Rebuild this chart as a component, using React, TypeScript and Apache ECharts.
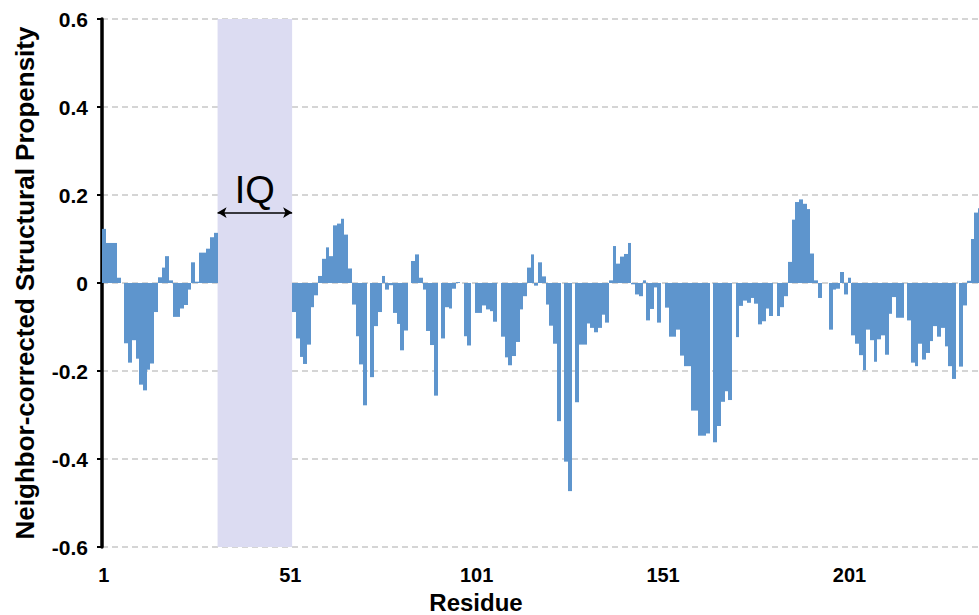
import React, { useEffect, useRef } from "react";
import * as echarts from "echarts";

const FONT = '"Liberation Sans", Arial, Helvetica, sans-serif';

// Residue numbers 1..236 (category axis)
const residues: string[] = Array.from({ length: 236 }, (_, i) => String(i + 1));

// Neighbor-corrected structural propensity per residue (null = IQ motif, not plotted)
const propensity: (number | null)[] = [
  // 1-10
  0.123, 0.091, 0.091, 0.091, 0.012, 0, -0.137, -0.181, -0.13, -0.172,
  // 11-20
  -0.231, -0.244, -0.197, -0.183, -0.066, 0.013, 0.035, 0.061, 0.006, -0.077,
  // 21-30
  -0.077, -0.058, -0.05, -0.015, 0.047, 0.003, 0.069, 0.069, 0.078, 0.104,
  // 31-40
  0.114, null, null, null, null, null, null, null, null, null,
  // 41-50
  null, null, null, null, null, null, null, null, null, null,
  // 51-60
  null, -0.066, -0.126, -0.168, -0.184, -0.14, -0.055, -0.028, 0.016, 0.055,
  // 61-70
  0.081, 0.061, 0.131, 0.135, 0.146, 0.11, 0.033, -0.049, -0.121, -0.185,
  // 71-80
  -0.278, 0, -0.214, -0.098, -0.066, 0.016, -0.015, -0.005, -0.068, -0.093,
  // 81-90
  -0.153, -0.108, 0, 0.05, 0.065, 0.012, -0.015, -0.109, -0.141, -0.256,
  // 91-100
  0, -0.126, -0.055, -0.058, -0.013, 0.002, 0, -0.121, -0.142, 0,
  // 101-110
  -0.068, -0.068, -0.051, -0.06, -0.064, -0.088, 0, -0.122, -0.169, -0.187,
  // 111-120
  -0.166, -0.134, -0.06, -0.03, 0.035, 0.065, -0.006, 0.047, 0.015, -0.049,
  // 121-130
  -0.097, -0.138, -0.314, 0, -0.406, -0.473, 0, -0.271, -0.14, -0.14,
  // 131-140
  -0.092, -0.102, -0.112, -0.102, -0.072, -0.09, 0.006, 0.084, 0.044, 0.06,
  // 141-150
  0.066, 0.091, -0.003, -0.026, -0.03, 0.006, -0.085, -0.059, -0.01, -0.09,
  // 151-160
  0, -0.056, -0.122, -0.122, -0.106, -0.165, -0.189, -0.189, -0.29, -0.29,
  // 161-170
  -0.347, -0.347, -0.342, 0, -0.362, -0.325, -0.27, -0.246, -0.266, 0,
  // 171-180
  -0.123, -0.052, -0.04, -0.045, -0.034, -0.047, -0.094, -0.087, -0.058, -0.075,
  // 181-190
  0, -0.075, -0.055, -0.03, 0.048, 0.144, 0.184, 0.19, 0.18, 0.168,
  // 191-200
  0.067, 0.006, -0.034, 0, 0, -0.106, -0.015, -0.013, 0.025, -0.026,
  // 201-210
  0.012, -0.119, -0.138, -0.164, -0.198, -0.106, -0.13, -0.179, -0.128, -0.119,
  // 211-220
  -0.163, -0.07, -0.032, -0.079, -0.079, 0, -0.085, -0.181, -0.189, -0.138,
  // 221-230
  -0.174, -0.159, -0.132, -0.098, -0.122, -0.102, -0.144, -0.189, -0.218, 0,
  // 231-236
  -0.19, -0.051, 0.005, 0.1, 0.16, 0.17,
];

// IQ motif region (residue boundaries on a continuous scale) and label
const iqRange: [number, number] = [31, 51];
const iqArrowY = 0.16;
const iqLabel = "IQ";

const yTicks = { min: -0.6, max: 0.6, interval: 0.2 };

const BAR_COLOR = "#5e95cd";

export default function App() {
  const ref = useRef<HTMLDivElement>(null);

  useEffect(() => {
    document.body.style.margin = "0";
    if (!ref.current) return;
    const chart = echarts.init(ref.current, undefined, { renderer: "svg" });
    const n = residues.length;
    const band = 3.728;
    const barData = propensity.map((v, i) => [i, v == null ? "-" : v]);
    chart.setOption({
      animation: false,
      backgroundColor: "#ffffff",
      grid: {
        left: 102,
        top: 19,
        width: n * band,
        height: 528,
        containLabel: false,
        outerBoundsMode: "none",
      },
      xAxis: [
        {
          type: "category",
          data: residues,
          axisLine: { show: false, onZero: false },
          axisTick: { show: false },
          splitLine: { show: false },
          axisLabel: {
            interval: 49,
            color: "#000",
            fontSize: 20,
            fontWeight: "bold",
            fontFamily: FONT,
            margin: 18,
          },
        },
        {
          type: "value",
          min: 0,
          max: n,
          show: false,
          axisLine: { show: false, onZero: false },
          splitLine: { show: false },
        },
      ],
      yAxis: {
        type: "value",
        min: yTicks.min,
        max: yTicks.max,
        interval: yTicks.interval,
        name: "Neighbor-corrected Structural Propensity",
        nameLocation: "middle",
        nameGap: 64,
        nameTextStyle: {
          color: "#000",
          fontSize: 26,
          fontWeight: "bold",
          fontFamily: FONT,
        },
        axisLine: { show: true, lineStyle: { color: "#000", width: 3.5 } },
        axisTick: { show: true, length: 5, lineStyle: { color: "#000", width: 2 } },
        axisLabel: {
          color: "#000",
          fontSize: 21,
          fontWeight: "bold",
          fontFamily: FONT,
          margin: 14,
        },
        splitLine: {
          show: true,
          lineStyle: { color: "#c8c8c8", type: [6, 4], width: 1.5 },
        },
      },
      graphic: [
        {
          type: "text",
          x: 476,
          y: 602,
          style: {
            text: "Residue",
            fontSize: 24,
            fontWeight: "bold",
            fontFamily: FONT,
            fill: "#000",
            align: "center",
            verticalAlign: "middle",
          },
        },
      ],
      series: [
        {
          type: "custom",
          name: "Propensity",
          xAxisIndex: 0,
          yAxisIndex: 0,
          data: barData,
          encode: { x: 0, y: 1 },
          silent: true,
          renderItem: (params: any, api: any) => {
            const v = api.value(1);
            if (v == null || isNaN(v) || v === 0) return null;
            const idx = api.value(0);
            const base = api.coord([idx, 0]);
            const top = api.coord([idx, v]);
            const bw = api.size([1, 0])[0];
            const x0 = Math.round(base[0] - bw / 2);
            const x1 = Math.round(base[0] + bw / 2);
            const y0 = Math.min(base[1], top[1]);
            const y1 = Math.max(base[1], top[1]);
            return {
              type: "rect",
              shape: { x: x0, y: y0, width: x1 - x0, height: y1 - y0 },
              style: { fill: BAR_COLOR },
            };
          },
        },
        {
          type: "scatter",
          xAxisIndex: 1,
          yAxisIndex: 0,
          data: [[0, 0]],
          symbolSize: 0,
          silent: true,
          markArea: {
            silent: true,
            itemStyle: { color: "#dcdcf2" },
            data: [[{ xAxis: iqRange[0] }, { xAxis: iqRange[1] }]],
          },
          markLine: {
            silent: true,
            symbol: ["arrow", "arrow"],
            symbolSize: [8, 9],
            lineStyle: { color: "#000", width: 1.5, type: "solid" },
            label: {
              show: true,
              position: "middle",
              formatter: iqLabel,
              color: "#000",
              fontSize: 38,
              fontFamily: FONT,
              distance: 4,
            },
            data: [
              [
                { coord: [iqRange[0], iqArrowY] },
                { coord: [iqRange[1], iqArrowY] },
              ],
            ],
          },
        },
      ],
    });
    return () => chart.dispose();
  }, []);

  return <div ref={ref} style={{ width: 979, height: 615 }} />;
}
